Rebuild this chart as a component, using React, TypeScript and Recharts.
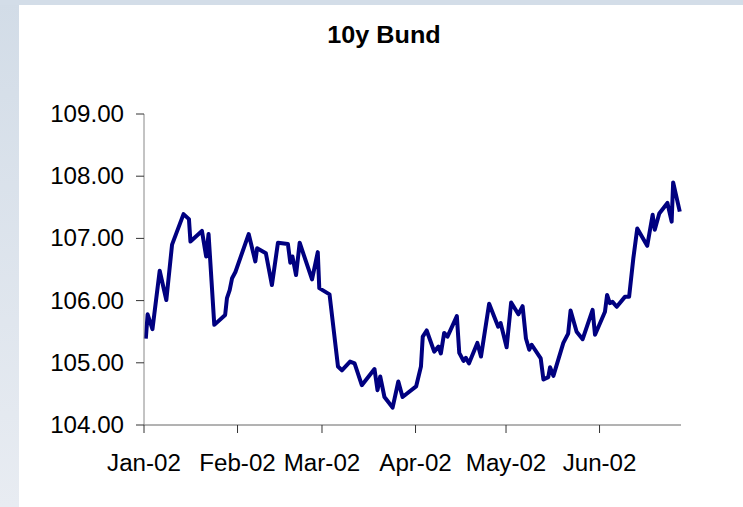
import React from "react"
import { LineChart, Line, XAxis, YAxis } from "recharts"

// days since 1 Jan 2002
const days = [
  0.6, 1.2, 2.8, 5.2, 7.4, 9.3, 13.1, 14.9, 15.4, 19.2, 20.6, 21.4, 23.3, 26.9, 27.5, 28.4, 29.2, 30.3,
  34.7, 36.9, 37.5, 40.4, 42.4, 44.4, 47.7, 48.5, 49.2, 50.4, 51.6, 55.7, 57.6, 58.1, 61.5, 64.3, 65.6,
  68.3, 69.8, 72.2, 76.4, 77.4, 78.3, 79.7, 82.4, 84.3, 85.7, 90.2, 91.8, 92.4, 93.7, 96.2, 97.6, 98.4,
  99.5, 100.6, 103.7, 104.5, 105.9, 106.7, 107.7, 110.5, 111.7, 114.4, 117.4, 118.2, 120.2, 121.7, 124.1,
  125.5, 126.6, 127.7, 128.5, 131.5, 132.4, 134.0, 134.6, 135.7, 139.0, 140.6, 141.4, 143.4, 145.4, 148.7,
  149.5, 152.8, 153.5, 154.4, 155.3, 156.7, 159.4, 160.8, 162.2, 163.5, 166.8, 168.6, 169.3, 170.8, 173.5,
  174.9, 175.4, 177.6,
]

const prices = [
  105.39, 105.78, 105.54, 106.48, 106.01, 106.9, 107.39, 107.31, 106.95, 107.12, 106.71, 107.07, 105.61,
  105.77, 106.04, 106.17, 106.36, 106.46, 107.07, 106.63, 106.84, 106.76, 106.25, 106.93, 106.91, 106.61,
  106.71, 106.41, 106.93, 106.34, 106.78, 106.2, 106.1, 104.94, 104.88, 105.02, 104.99, 104.64, 104.9,
  104.56, 104.78, 104.45, 104.28, 104.7, 104.45, 104.62, 104.94, 105.42, 105.52, 105.18, 105.26, 105.15,
  105.48, 105.42, 105.75, 105.16, 105.03, 105.08, 104.99, 105.32, 105.1, 105.95, 105.58, 105.64, 105.25,
  105.97, 105.78, 105.91, 105.39, 105.21, 105.29, 105.07, 104.73, 104.77, 104.93, 104.79, 105.32, 105.47,
  105.84, 105.5, 105.38, 105.85, 105.45, 105.82, 106.09, 105.96, 105.98, 105.9, 106.06, 106.06, 106.68,
  107.16, 106.88, 107.38, 107.14, 107.4, 107.57, 107.27, 107.9, 107.43,
]

const monthTicks = [0, 31, 59, 90, 120, 151]
const monthLabels = ["Jan-02", "Feb-02", "Mar-02", "Apr-02", "May-02", "Jun-02"]
const priceTicks = [104, 105, 106, 107, 108, 109]

const data = days.map((d, i) => ({ day: d, price: prices[i] }))

const font = "'Liberation Sans', Arial, sans-serif"

// axis text is drawn slightly wide, like the old office charts
function WideTick(props: any) {
  const { x, y, payload, textAnchor, formatter, dy } = props
  return (
    <text
      transform={`translate(${x},${y}) scale(1.05,1)`}
      textAnchor={textAnchor}
      dy={dy}
      fill="#000"
      fontSize={23}
      fontFamily={font}
    >
      {formatter(payload.value)}
    </text>
  )
}

export default function App() {
  return (
    <div style={{ position: "absolute", left: 0, top: 0, width: 743, height: 507, background: "#fff", fontFamily: font }}>
      <div style={{ position: "absolute", left: 0, top: 0, width: 19, height: 507, background: "linear-gradient(#d2dce7, #e8ecf2)" }} />
      <div style={{ position: "absolute", left: 0, top: 0, width: 743, height: 5, background: "#d3dde8" }} />
      <div style={{ position: "absolute", left: 0, top: 23, width: 768, textAlign: "center", fontWeight: "bold", fontSize: 24, lineHeight: "23px", color: "#000", transform: "scaleX(1.05)" }}>
        10y Bund
      </div>
      <div style={{ position: "absolute", left: 0, top: 0 }}>
        <LineChart width={743} height={507} data={data} margin={{ top: 114, right: 62, bottom: 0, left: 0 }}>
          <XAxis
            dataKey="day"
            type="number"
            domain={[0, 178]}
            ticks={monthTicks}
            interval={0}
            height={82}
            tickSize={8}
            tickMargin={22}
            axisLine={{ stroke: "#666" }}
            tickLine={{ stroke: "#333" }}
            tick={<WideTick dy={16} formatter={(v: number) => monthLabels[monthTicks.indexOf(v)]} />}
          />
          <YAxis
            domain={[104, 109]}
            ticks={priceTicks}
            width={144}
            tickSize={8}
            tickMargin={12}
            axisLine={{ stroke: "#888" }}
            tickLine={{ stroke: "#333" }}
            tick={<WideTick dy={8} formatter={(v: number) => v.toFixed(2)} />}
          />
          <Line
            dataKey="price"
            type="linear"
            stroke="#000080"
            strokeWidth={4}
            strokeLinejoin="round"
            dot={false}
            isAnimationActive={false}
          />
        </LineChart>
      </div>
    </div>
  )
}
